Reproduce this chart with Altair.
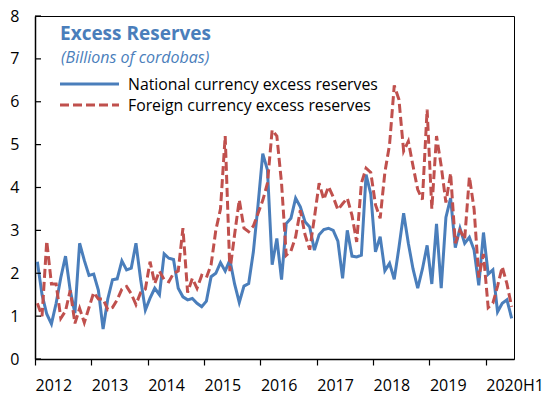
import altair as alt
import pandas as pd

years = [2012, 2013, 2014, 2015, 2016, 2017, 2018, 2019, 2020]
tick_labels = ["2012", "2013", "2014", "2015", "2016", "2017", "2018", "2019", "2020H1"]
y_ticks = [0, 1, 2, 3, 4, 5, 6, 7, 8]

national = [
    2.27, 1.5, 1.05, 0.82, 1.3, 1.9, 2.4, 1.6, 1.07, 2.7, 2.3, 1.95,
    1.98, 1.6, 0.7, 1.4, 1.85, 1.87, 2.29, 2.08, 2.12, 2.7, 1.85, 1.14,
    1.42, 1.65, 1.5, 2.45, 2.35, 2.32, 1.65, 1.45, 1.38, 1.41, 1.3, 1.22,
    1.35, 1.92, 2.0, 2.25, 2.05, 2.31, 1.75, 1.32, 1.7, 1.76, 2.5, 3.6,
    4.79, 4.41, 2.2, 2.81, 1.85, 3.16, 3.28, 3.75, 3.55, 3.2, 3.08, 2.54,
    2.9, 3.02, 3.05, 3.0, 2.75, 1.88, 3.0, 2.4, 2.38, 2.42, 4.3, 3.85,
    2.5, 2.85, 2.06, 2.23, 1.86, 2.6, 3.4, 2.7, 2.1, 1.65, 2.1, 2.65,
    1.75, 3.15, 1.65, 3.3, 3.75, 2.6, 3.05, 2.7, 2.84, 2.54, 1.72, 2.95,
    1.98, 2.08, 1.1, 1.3, 1.38, 0.95,
]
foreign = [
    1.3, 1.0, 2.75, 1.75, 1.75, 0.95, 1.12, 1.6, 0.83, 1.18, 0.85, 1.2,
    1.55, 1.4, 1.4, 1.15, 1.2, 1.38, 1.63, 1.69, 1.52, 1.27, 1.55, 1.63,
    2.27, 1.76, 2.05, 1.85, 1.8, 2.0, 2.05, 3.05, 1.55, 1.88, 1.65, 1.95,
    1.9, 2.2, 3.0, 3.5, 5.2, 2.05, 2.9, 3.71, 3.05, 2.97, 3.1, 3.4,
    3.7, 4.1, 5.34, 5.2, 4.1, 2.42, 2.52, 2.85, 3.47, 2.9, 2.55, 3.3,
    4.1, 3.72, 4.02, 3.78, 3.48, 3.62, 3.75, 3.35, 2.73, 4.1, 4.45, 4.35,
    3.6, 3.28, 4.35, 5.0, 6.38, 6.05, 4.85, 5.08, 4.5, 3.95, 3.72, 5.82,
    3.5, 5.2, 4.5, 3.65, 4.33, 2.7, 3.0, 2.8, 4.25, 3.5, 1.9, 2.45,
    1.2, 1.3, 1.7, 2.15, 1.75, 1.22,
]

series_names = ["National currency excess reserves", "Foreign currency excess reserves"]
blue = "#4A7EBB"
red = "#C0504D"
FONT = "Open Sans"

t = [2012 + (i + 0.5) / 12 for i in range(len(national))]
df = pd.DataFrame({"t": t, "national": national, "foreign": foreign})

xs = alt.Scale(domain=[2012, 2020.5], nice=False, zero=False)
ys = alt.Scale(domain=[0, 8], nice=False)

x_axis = alt.Axis(
    values=years, title=None, grid=False, format="d",
    labelExpr="datum.value == 2020 ? '2020H1' : datum.label",
    labelAlign="left", labelPadding=12, tickSize=6,
    labelFont=FONT, labelFontSize=16, labelColor="#000",
    domainColor="#000", domainWidth=1.5, tickColor="#000", tickWidth=1.2,
)
y_axis = alt.Axis(
    values=y_ticks, title=None, grid=False, ticks=False, labelPadding=16,
    labelFont=FONT, labelFontSize=16, labelColor="#000",
    domainColor="#000", domainWidth=1.5,
)

base = alt.Chart(df)
nat_line = base.mark_line(color=blue, strokeWidth=3).encode(
    x=alt.X("t:Q", scale=xs, axis=x_axis),
    y=alt.Y("national:Q", scale=ys, axis=y_axis),
)
for_line = base.mark_line(color=red, strokeWidth=3, strokeDash=[9, 4]).encode(
    x=alt.X("t:Q", scale=xs),
    y=alt.Y("foreign:Q", scale=ys),
)

tick_df = pd.DataFrame({"v": y_ticks})
y_tick_marks = alt.Chart(tick_df).mark_rule(color="#000", strokeWidth=1.2).encode(
    y=alt.Y("v:Q", scale=ys),
    x=alt.value(0), x2=alt.value(6),
)

title = alt.Chart(pd.DataFrame({"s": ["Excess Reserves"]})).mark_text(
    align="left", baseline="alphabetic", font=FONT, fontSize=19, fontWeight="bold", color=blue
).encode(text="s:N", x=alt.value(25), y=alt.value(24))
subtitle = alt.Chart(pd.DataFrame({"s": ["(Billions of cordobas)"]})).mark_text(
    align="left", baseline="alphabetic", font=FONT, fontSize=16, fontStyle="italic", color=blue
).encode(text="s:N", x=alt.value(26), y=alt.value(47))

leg1_line = alt.Chart(pd.DataFrame({"a": [0]})).mark_rule(color=blue, strokeWidth=3).encode(
    x=alt.value(25), x2=alt.value(84), y=alt.value(68))
leg2_line = alt.Chart(pd.DataFrame({"a": [0]})).mark_rule(color=red, strokeWidth=3, strokeDash=[9, 4]).encode(
    x=alt.value(25), x2=alt.value(84), y=alt.value(89))
leg1_text = alt.Chart(pd.DataFrame({"s": [series_names[0]]})).mark_text(
    align="left", baseline="middle", font=FONT, fontSize=15.8, color="#000"
).encode(text="s:N", x=alt.value(93), y=alt.value(69))
leg2_text = alt.Chart(pd.DataFrame({"s": [series_names[1]]})).mark_text(
    align="left", baseline="middle", font=FONT, fontSize=15.8, color="#000"
).encode(text="s:N", x=alt.value(93), y=alt.value(90))

chart = alt.layer(
    nat_line, for_line, y_tick_marks, title, subtitle,
    leg1_line, leg2_line, leg1_text, leg2_text,
).properties(
    width=479, height=343,
    autosize=alt.AutoSizeParams(type="none"),
    padding={"left": 35, "top": 16, "right": 31, "bottom": 36},
    background="white",
).configure_view(stroke="#000", strokeWidth=1)

chart.save("out.html", embed_options={"renderer": "svg", "actions": False})
